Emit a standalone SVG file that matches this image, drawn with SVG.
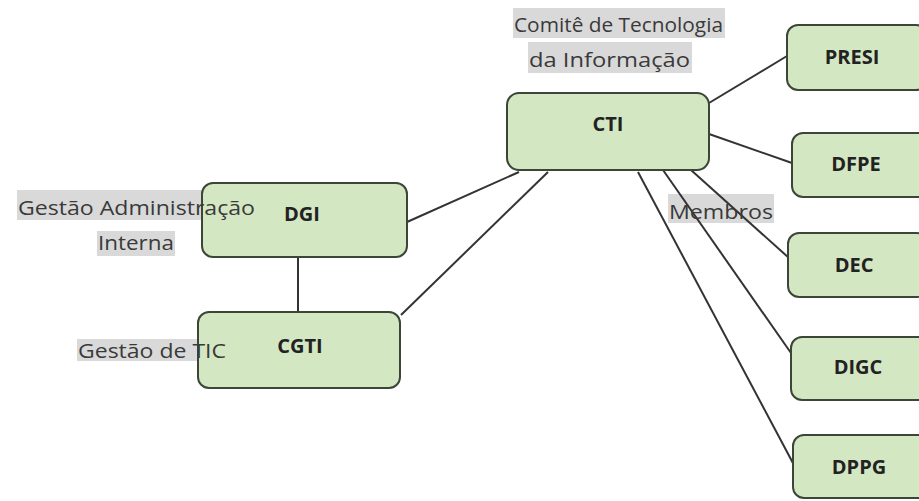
<svg xmlns="http://www.w3.org/2000/svg" width="919" height="501" viewBox="0 0 919 501">
  <style>
    .box { fill: #d4e7c3; stroke: #3c4638; stroke-width: 2; }
    .name { font-family: "Open Sans", "Liberation Sans", sans-serif; font-size: 20px; font-weight: bold; fill: #222; text-anchor: middle; }
    .tag { fill: #d9d9d9; }
    .tagtext { font-family: "Open Sans", "Liberation Sans", sans-serif; font-size: 20px; fill: #3a3a3a; }
    .link { stroke: #333; stroke-width: 2; fill: none; }
  </style>
  <rect width="919" height="501" fill="#ffffff"/>

  <!-- caption backgrounds, behind the boxes -->
  <g id="labels">
    <rect class="tag" x="513" y="8" width="212" height="30"/>
    <text class="tagtext" x="514" y="32" textLength="209" lengthAdjust="spacingAndGlyphs">Comitê de Tecnologia</text>
    <rect class="tag" x="528" y="42" width="164" height="31"/>
    <text class="tagtext" x="529" y="67" textLength="161" lengthAdjust="spacingAndGlyphs">da Informação</text>
    <rect class="tag" x="17" y="190" width="240" height="30"/>
    <rect class="tag" x="97" y="231" width="78" height="25"/>
    <rect class="tag" x="77" y="339" width="150" height="22"/>
    <rect class="tag" x="668" y="194" width="106" height="29"/>
  </g>

  <g id="connectors">
    <line class="link" x1="709" y1="103" x2="787" y2="56"/>
    <line class="link" x1="709" y1="134" x2="792" y2="163"/>
    <line class="link" x1="691" y1="170" x2="789" y2="258"/>
    <line class="link" x1="663" y1="170" x2="791" y2="353"/>
    <line class="link" x1="638" y1="172" x2="794" y2="465"/>
    <line class="link" x1="519" y1="172" x2="407" y2="222"/>
    <line class="link" x1="548" y1="172" x2="401" y2="315"/>
    <line class="link" x1="298" y1="257" x2="298" y2="312"/>
  </g>

  <g id="node-cti">
    <rect class="box" x="507" y="93" width="202" height="77" rx="12"/>
    <text class="name" x="608" y="131">CTI</text>
  </g>
  <g id="node-presi">
    <rect class="box" x="787" y="25" width="140" height="65" rx="11"/>
    <text class="name" x="852" y="64">PRESI</text>
  </g>
  <g id="node-dfpe">
    <rect class="box" x="792" y="133" width="140" height="64" rx="11"/>
    <text class="name" x="856" y="171">DFPE</text>
  </g>
  <g id="node-dec">
    <rect class="box" x="788" y="233" width="140" height="64" rx="11"/>
    <text class="name" x="854" y="272">DEC</text>
  </g>
  <g id="node-digc">
    <rect class="box" x="791" y="337" width="140" height="63" rx="11"/>
    <text class="name" x="858" y="374">DIGC</text>
  </g>
  <g id="node-dppg">
    <rect class="box" x="793" y="435" width="140" height="63" rx="11"/>
    <text class="name" x="859" y="474">DPPG</text>
  </g>
  <g id="node-dgi">
    <rect class="box" x="202" y="183" width="205" height="74" rx="11"/>
    <text class="name" x="302" y="221">DGI</text>
  </g>
  <g id="node-cgti">
    <rect class="box" x="198" y="312" width="202" height="76" rx="11"/>
    <text class="name" x="300" y="353">CGTI</text>
  </g>

  <!-- caption text drawn over the boxes -->
  <g id="caption-text">
    <text class="tagtext" x="18" y="215" textLength="237" lengthAdjust="spacingAndGlyphs">Gestão Administração</text>
    <text class="tagtext" x="98" y="250" textLength="76" lengthAdjust="spacingAndGlyphs">Interna</text>
    <text class="tagtext" x="78" y="358" textLength="148" lengthAdjust="spacingAndGlyphs">Gestão de TIC</text>
    <text class="tagtext" x="669" y="219" textLength="104" lengthAdjust="spacingAndGlyphs">Membros</text>
  </g>
</svg>
